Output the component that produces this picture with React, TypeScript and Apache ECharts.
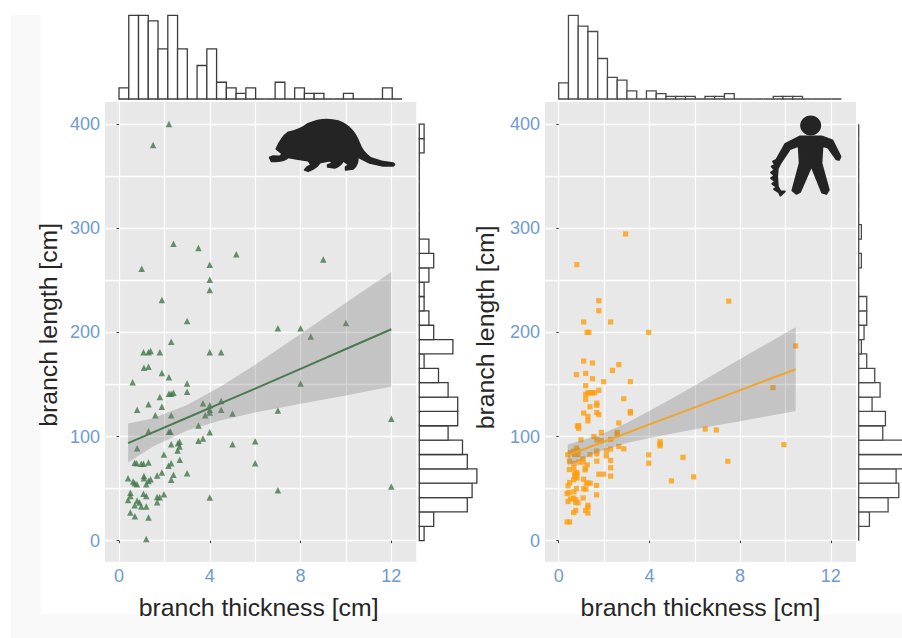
import React, { useEffect, useRef } from "react";
import * as echarts from "echarts";

const thicknessTicks = [0, 4, 8, 12];
const thicknessGrid = [0, 2, 4, 6, 8, 10, 12];
const lengthTicks = [0, 100, 200, 300, 400];
const lengthGrid = [0, 50, 100, 150, 200, 250, 300, 350, 400];

// branch thickness [cm], branch length [cm]
const leftPoints = [
  [2.2, 400], [1.5, 380], [2.4, 285], [3.5, 281], [5.17, 275], [9, 270], [4, 265], [1, 261], [4, 250.6], [4, 240.6],
  [1.89, 231], [3, 211], [7, 204], [8, 204], [10, 209], [8.45, 196], [2.3, 191], [1.08, 181], [1.3, 181], [1.39, 182],
  [1.8, 181], [4, 181], [4.5, 181], [1.1, 166], [1.3, 167], [1.89, 161], [2.2, 157], [0.6, 152], [3, 151], [8, 151],
  [3, 143], [2.2, 141], [2.3, 141], [2.4, 142], [1.8, 138], [1.3, 131], [1.89, 128.5], [0.8, 125.6], [1.6, 120.5], [2.3, 120.5],
  [3.7, 132], [4, 130], [4.5, 134], [4, 125.6], [4, 123], [3.8, 120.5], [4.5, 125.6], [5, 122], [7, 125], [12, 117],
  [3.5, 110.5], [1.3, 105], [2.2, 104.5], [2.27, 104.5], [4, 104], [3.5, 96], [3.7, 98], [2.67, 95], [2.6, 93.6], [2.67, 90.4],
  [2.3, 92.6], [5, 92.6], [6, 95.5], [0.8, 88.8], [2.58, 86.6], [1.98, 82.7], [2.68, 77.6], [0.69, 74.7], [0.78, 74.4], [0.98, 73.8],
  [1.08, 73.8], [1.3, 75], [2.3, 74.4], [2.18, 72], [6, 74.4], [1.89, 65.4], [1.68, 62.6], [2.4, 63.2], [3, 64.8], [1.1, 62],
  [1.1, 60], [0.4, 60], [1.39, 59], [1.3, 57.4], [2.3, 58.4], [0.62, 56.8], [0.69, 55.2], [0.79, 54.2], [1.2, 54.2], [12, 52],
  [7, 48.5], [0.5, 46], [0.5, 43], [1.08, 45], [1.2, 43], [1.98, 44.6], [1.68, 42], [1.79, 41.7], [4, 41.4], [0.4, 39],
  [0.8, 38.5], [0.9, 36.6], [1.68, 37], [0.69, 34], [0.98, 32.8], [1.2, 32.8], [0.5, 27], [0.7, 23.5], [1.3, 22.2], [1.2, 1.7],
];
const rightPoints = [
  [2.95, 294.5], [0.8, 265], [1.77, 230.4], [7.5, 230], [1.77, 220.8], [1.1, 210], [2.29, 210], [1.25, 200], [1.33, 200], [3.97, 200],
  [10.45, 187], [1.1, 172.5], [1.49, 170.6], [2.65, 169], [2.37, 163.5], [0.78, 159.4], [1.19, 160.6], [1.49, 155.5], [1.98, 152.6], [3.16, 152.6],
  [1.19, 148.8], [9.45, 147], [1.29, 142], [1.39, 142], [1.49, 142], [1.58, 142], [1.77, 144.3], [1.19, 140.5], [1.19, 135.7], [1.68, 132],
  [1.68, 130], [2.87, 136.3], [1.38, 128.6], [1.1, 122.5], [1.68, 123], [1.77, 121], [1.29, 119.3], [3.16, 124], [3.16, 122.5], [1.29, 115],
  [0.82, 110], [0.88, 110.4], [0.88, 107.8], [2.65, 113], [6.46, 107.2], [6.95, 106.3], [1.88, 104], [1.55, 100], [0.98, 96.8], [1.68, 96.8],
  [1.88, 96], [2.29, 97.4], [2.58, 104], [2.58, 102], [4.47, 95], [4.47, 93], [4.47, 91], [9.93, 92.2], [2.65, 90.4], [2.87, 88.2],
  [2.29, 88], [2.1, 86.2], [2.1, 81.4], [1.68, 86], [1.68, 83.4], [1.38, 82.7], [0.4, 82.4], [0.51, 84.6], [0.66, 86], [0.78, 89],
  [0.85, 87], [0.7, 82.7], [0.85, 82.7], [3.97, 82.4], [3.97, 74.4], [5.48, 80], [0.47, 76.3], [1.68, 76.3], [2.29, 77], [2.29, 70],
  [1.07, 78.6], [1.07, 75.4], [0.88, 75.4], [0.67, 74.4], [0.67, 70], [7.46, 76.2], [1.26, 72.8], [1.17, 69.6], [1.17, 68], [0.47, 68.3],
  [0.72, 65.4], [0.8, 65.4], [0.72, 63.2], [0.8, 63.2], [0.72, 61], [0.8, 60], [0.66, 58.4], [1.77, 63.8], [1.98, 63.8], [2.29, 62],
  [1.1, 59], [1.22, 55.2], [1.39, 55.2], [1.29, 55.2], [0.48, 55.8], [0.41, 52.6], [1.67, 53], [4.97, 57.4], [5.95, 61.3], [1.1, 49.8],
  [1.2, 49.4], [0.78, 50], [0.37, 45.3], [0.45, 46.2], [0.67, 46.9], [0.66, 40.8], [0.75, 39.2], [0.85, 36.3], [0.75, 36.6], [1.08, 41],
  [1.67, 44], [0.51, 40], [0.41, 37.6], [1.29, 34], [1.29, 32], [1.19, 29], [1.29, 26.4], [0.66, 27], [0.75, 29], [0.37, 18], [0.48, 18],
];

const leftFitX = [0.4, 1.5, 3, 4.5, 6, 8, 10, 12];
const leftFit = [93.6, 104, 118, 132, 146, 165, 184, 203];
const leftUpper = [112.5, 117.6, 130.2, 148.3, 169, 198.5, 228.5, 258];
const leftLower = [75, 90.4, 105.8, 115.7, 123, 131.5, 139.5, 148];

const rightFitX = [0.4, 1.8, 3, 4.5, 6, 8, 10.45];
const rightFit = [82, 93.5, 103.4, 115.7, 128, 144.5, 164.6];
const rightUpper = [92.3, 101.5, 113, 130.6, 149, 174.4, 205];
const rightLower = [71.7, 85.5, 93.7, 100.8, 107, 114.6, 124.6];

// histogram counts, bin index from the low end of the axis
const thicknessBin = 0.43;
const lengthBin = 13.79;
const leftThicknessCounts = [2, 15, 15, 14, 9, 15, 9, 0, 6, 9, 3, 2, 1, 2, 0, 0, 3, 0, 2, 1, 1, 0, 0, 1, 0, 0, 0, 2, 0];
const rightThicknessCounts = [6, 31, 27, 25, 15, 8, 7, 3, 0, 3, 2, 1, 1, 1, 0, 1, 1, 2, 0, 0, 0, 0, 1, 1, 1, 0, 0, 0, 0];
const leftLengthCounts = [1, 3, 10, 11, 12, 10, 9, 6, 8, 8, 6, 4, 1, 7, 3, 2, 1, 1, 2, 3, 2, 0, 0, 0, 0, 0, 0, 1, 1];
const rightLengthCounts = [0, 4, 11, 15, 14, 20, 21, 9, 10, 5, 8, 6, 3, 1, 2, 3, 3, 0, 0, 1, 0, 1, 0, 0, 0, 0, 0, 0, 0];

const xTitle = "branch thickness [cm]";
const yTitle = "branch length [cm]";

const FONT = "Liberation Sans";
const BLUE = "#6f9ad3";
const INK = "#262626";
const PANEL = "#e8e8e8";
const GREEN = "#41774a";
const ORANGE = "#ff9e0d";

const RAT =
  "M530 447 Q545 412 565 398 Q600 392 625 372 Q670 352 715 364 Q760 380 778 430 Q788 458 812 474 L850 486 L880 490 L884 494 L880 498 L850 498 L810 489 L785 476 L774 470 Q775 495 760 507 L738 510 L738 502 L748 495 L730 482 Q725 497 705 504 L684 501 L684 495 L700 490 L690 482 L660 488 Q650 505 625 514 L615 510 L622 502 L635 495 L625 482 L590 477 L565 472 Q550 486 515 484 L510 473 L520 469 L540 470 L549 462 Z";
const PERSON =
  "M780 410 L846 410 L878 422 L902 470 L898 480 L890 478 L865 443 L848 438 L845 490 L867 570 L860 582 L847 578 L815 498 L781 576 L770 582 L758 572 L780 490 L777 438 L750 448 L722 490 L714 505 L712 530 L714 560 L722 575 L735 575 L722 587 L718 578 L703 568 L712 562 L698 552 L707 545 L694 535 L705 528 L694 518 L705 510 L696 500 L706 495 L700 485 L710 480 L737 432 Z";

function grid(left: number, top: number, width: number, height: number) {
  return { left, top, width, height, show: false, containLabel: false };
}

function histBars(binWidth: number, xIndex: number, yIndex: number, counts: number[], vertical: boolean, stroke: string, clip: boolean) {
  return {
    type: "custom",
    xAxisIndex: xIndex,
    yAxisIndex: yIndex,
    clip,
    silent: true,
    z: 2,
    data: counts.map((c, i) => (vertical ? [i, c] : [c, i])),
    renderItem: (_p: any, api: any) => {
      const a = api.value(0);
      const b = api.value(1);
      const p0 = vertical ? api.coord([a * binWidth, 0]) : api.coord([0, b * binWidth]);
      const p1 = vertical ? api.coord([(a + 1) * binWidth, b]) : api.coord([a, (b + 1) * binWidth]);
      return {
        type: "rect",
        shape: { x: Math.min(p0[0], p1[0]), y: Math.min(p0[1], p1[1]), width: Math.abs(p1[0] - p0[0]), height: Math.abs(p1[1] - p0[1]) },
        style: { fill: "#ffffff", stroke, lineWidth: 1.3 },
      };
    },
  };
}

function ribbon(xIndex: number, yIndex: number, xs: number[], upper: number[], lower: number[]) {
  return {
    type: "custom",
    xAxisIndex: xIndex,
    yAxisIndex: yIndex,
    silent: true,
    z: 4,
    data: [[xs[0], upper[0]]],
    renderItem: (_p: any, api: any) => {
      const pts = [
        ...xs.map((x, i) => api.coord([x, upper[i]])),
        ...xs.map((x, i) => api.coord([x, lower[i]])).reverse(),
      ];
      return { type: "polygon", shape: { points: pts }, style: { fill: "rgba(120,120,120,0.32)" } };
    },
  };
}

function gridLines(kind: "x" | "y", gridIndex: number, min: number, max: number, values: number[]) {
  return {
    type: "value",
    gridIndex,
    min,
    max,
    position: kind === "x" ? "bottom" : "left",
    axisLine: { show: false },
    axisLabel: { show: false, customValues: values },
    axisTick: { show: false, customValues: values },
    splitLine: { show: true, lineStyle: { color: "#ffffff", width: 1.3 } },
  };
}

function labelled(kind: "x" | "y", gridIndex: number, min: number, max: number, values: number[], name: string, nameGap: number, padding: number[]) {
  return {
    type: "value",
    gridIndex,
    min,
    max,
    name,
    nameLocation: "middle",
    nameGap,
    nameTextStyle: { color: INK, fontFamily: FONT, fontSize: 24.8, padding },
    position: kind === "x" ? "bottom" : "left",
    axisLine: { show: false },
    splitLine: { show: false },
    axisTick: { show: true, length: 2.5, customValues: values, lineStyle: { color: "#444444", width: 1 } },
    axisLabel: { show: true, margin: 5, color: BLUE, fontFamily: FONT, fontSize: 18, customValues: values },
  };
}

function hidden(gridIndex: number, min: number, max: number) {
  return {
    type: "value",
    gridIndex,
    min,
    max,
    show: false,
    splitLine: { show: false },
    axisLabel: { show: false },
    axisTick: { show: false },
  };
}

export default function App() {
  const ref = useRef<HTMLDivElement>(null);
  useEffect(() => {
    if (!ref.current) return;
    echarts.graphic.registerShape("rat", echarts.graphic.extendPath(RAT, {}));
    echarts.graphic.registerShape("person", echarts.graphic.extendPath(PERSON, {}));
    const chart = echarts.init(ref.current, undefined, { renderer: "svg" });
    const xL: [number, number] = [-0.617, 13.1];
    const xR: [number, number] = [-0.604, 13.11];
    const yM: [number, number] = [-20.2, 421.2];
    const silhouette = { fill: "#242424", stroke: "#242424", lineWidth: 6, lineJoin: "round" };
    chart.setOption({
      animation: false,
      backgroundColor: "#ffffff",
      grid: [
        grid(105, 102, 311.3, 459.7),
        grid(545, 102, 311, 459.7),
        grid(105, 15.3, 311.3, 83.7),
        grid(545, 15.3, 311, 83.7),
        grid(419.3, 102, 57.6, 459.7),
        grid(858.7, 102, 43.3, 459.7),
      ],
      xAxis: [
        gridLines("x", 0, xL[0], xL[1], thicknessGrid),
        labelled("x", 0, xL[0], xL[1], thicknessTicks, xTitle, 33, [0, 4, 0, 0]),
        gridLines("x", 1, xR[0], xR[1], thicknessGrid),
        labelled("x", 1, xR[0], xR[1], thicknessTicks, xTitle, 33, [0, 0, 0, 0]),
        hidden(2, xL[0], xL[1]),
        hidden(3, xR[0], xR[1]),
        hidden(4, 0, 12),
        hidden(5, 0, 16.2),
      ],
      yAxis: [
        gridLines("y", 0, yM[0], yM[1], lengthGrid),
        labelled("y", 0, yM[0], yM[1], lengthTicks, yTitle, 44, [0, 0, 0, 14]),
        gridLines("y", 1, yM[0], yM[1], lengthGrid),
        labelled("y", 1, yM[0], yM[1], lengthTicks, yTitle, 47, [0, 0, 0, 9]),
        hidden(2, 0, 15),
        hidden(3, 0, 31),
        hidden(4, yM[0], yM[1]),
        hidden(5, yM[0], yM[1]),
      ],
      series: [
        {
          type: "scatter",
          xAxisIndex: 1,
          yAxisIndex: 1,
          symbol: "triangle",
          symbolSize: 6.5,
          itemStyle: { color: GREEN },
          z: 3,
          data: leftPoints,
        },
        {
          type: "scatter",
          xAxisIndex: 3,
          yAxisIndex: 3,
          symbol: "rect",
          symbolSize: 5.2,
          itemStyle: { color: ORANGE },
          z: 3,
          data: rightPoints,
        },
        ribbon(1, 1, leftFitX, leftUpper, leftLower),
        ribbon(3, 3, rightFitX, rightUpper, rightLower),
        {
          type: "line",
          xAxisIndex: 1,
          yAxisIndex: 1,
          showSymbol: false,
          z: 5,
          lineStyle: { color: "#4a7a50", width: 2 },
          data: leftFitX.map((x, i) => [x, leftFit[i]]),
        },
        {
          type: "line",
          xAxisIndex: 3,
          yAxisIndex: 3,
          showSymbol: false,
          z: 5,
          lineStyle: { color: "#f0a42e", width: 2 },
          data: rightFitX.map((x, i) => [x, rightFit[i]]),
        },
        histBars(thicknessBin, 4, 4, leftThicknessCounts, true, "#3c3c3c", false),
        histBars(thicknessBin, 5, 5, rightThicknessCounts, true, "#4a4a4a", false),
        histBars(lengthBin, 6, 6, leftLengthCounts, false, "#3c3c3c", false),
        histBars(lengthBin, 7, 7, rightLengthCounts, false, "#4a4a4a", true),
      ],
      graphic: [
        { type: "rect", z: -5, shape: { x: 11, y: 15, width: 30, height: 623 }, style: { fill: "#f9f9f9" } },
        { type: "rect", z: -5, shape: { x: 41, y: 614, width: 861, height: 24 }, style: { fill: "#f9f9f9" } },
        { type: "rect", z: -4, shape: { x: 105, y: 102, width: 311.3, height: 459.7 }, style: { fill: PANEL } },
        { type: "rect", z: -4, shape: { x: 545, y: 102, width: 311, height: 459.7 }, style: { fill: PANEL } },
        { type: "rat", x: 100, y: 0, scaleX: 1 / 3, scaleY: 1 / 3, z: 20, style: silhouette },
        { type: "person", x: 540, y: 0, scaleX: 1 / 3, scaleY: 1 / 3, z: 20, style: silhouette },
        { type: "ellipse", z: 20, shape: { cx: 540 + 812 / 3, cy: 125.5, rx: 10.5, ry: 10 }, style: { fill: "#242424" } },
      ],
    });
    return () => chart.dispose();
  }, []);
  return <div ref={ref} style={{ position: "fixed", left: 0, top: 0, width: 902, height: 638, overflow: "hidden" }} />;
}
